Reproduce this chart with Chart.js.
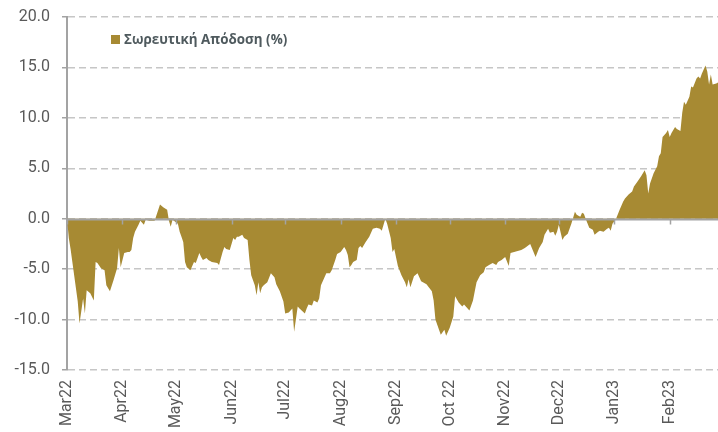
<!DOCTYPE html>
<html>
<head>
<meta charset="utf-8">
<script src="https://cdn.jsdelivr.net/npm/chart.js@4/dist/chart.umd.min.js"></script>
<style>
  html, body { margin: 0; padding: 0; background: #fff; }
  #wrap { position: relative; width: 718px; height: 432px; }
  #legend {
    position: absolute; left: 111px; top: 30px;
    font-family: "Open Sans", sans-serif; font-weight: bold; font-size: 13.4px;
    color: #4f5a5e; white-space: nowrap;
  }
  #legend span {
    display: inline-block; width: 9px; height: 9px; background: #a78a33;
    margin-right: 4px; vertical-align: 0px;
  }
</style>
</head>
<body>
<div id="wrap">
  <canvas id="returnChart" width="718" height="432"></canvas>
  <div id="legend"><span></span>Σωρευτική Απόδοση (%)</div>
</div>
<script>
// days since 1 Mar 2022
const days = [
    0, 1, 2, 4, 6, 7, 9, 10, 11, 13, 15, 16, 17, 19, 21, 22, 24, 26, 28, 29,
    30, 32, 34, 35, 36, 37, 38, 40, 41, 43, 44, 46, 49, 52, 54, 56, 57, 58, 59, 62,
    63, 64, 65, 66, 67, 69, 71, 72, 74, 75, 76, 78, 79, 81, 84, 85, 87, 88, 89, 91,
    93, 94, 95, 96, 98, 99, 101, 102, 103, 105, 106, 107, 108, 109, 110, 112, 114, 116, 117, 119,
    121, 122, 124, 126, 127, 129, 130, 133, 134, 135, 137, 138, 140, 141, 142, 144, 145, 147, 148, 150,
    151, 153, 155, 156, 157, 158, 159, 160, 162, 163, 164, 165, 167, 169, 171, 173, 175, 176, 177, 178,
    179, 181, 182, 183, 185, 187, 189, 190, 191, 192, 194, 196, 198, 201, 204, 205, 206, 208, 209, 211,
    212, 214, 216, 217, 219, 221, 222, 225, 227, 228, 229, 231, 233, 234, 236, 238, 240, 241, 243, 245,
    247, 248, 250, 254, 256, 259, 262, 264, 266, 267, 269, 270, 272, 273, 274, 275, 277, 278, 280, 282,
    283, 284, 285, 287, 288, 289, 290, 292, 293, 294, 295, 297, 298, 300, 302, 303, 304, 305, 307, 309,
    311, 312, 314, 316, 317, 319, 321, 323, 324, 325, 326, 328, 330, 331, 332, 333, 335, 336, 337, 338,
    340, 341, 343, 344, 345, 346, 348, 349, 350, 352, 353, 354, 355, 357, 358, 359, 360, 361, 363, 364
];
const returns = [
    0, -1.9, -3.0, -5.6, -8.2, -10.4, -7.9, -9.4, -7.1, -7.4, -8.1, -4.3, -4.4, -4.9, -5.1, -6.6, -7.2, -6.1, -4.9, -2.9,
    -4.8, -3.4, -3.3, -3.3, -3.1, -1.9, -1.3, -0.6, -0.2, -0.6, -0.1, -0.2, -0.2, 1.4, 1.1, 0.9, -0.2, -0.8, -0.1, -0.5,
    -1.3, -1.8, -2.3, -4.3, -4.8, -5.1, -4.3, -4.4, -3.4, -3.8, -4.1, -3.9, -4.1, -4.3, -4.4, -4.6, -3.3, -2.8, -3.0, -3.1,
    -1.9, -2.1, -1.8, -1.8, -1.6, -1.9, -2.1, -4.1, -5.6, -6.6, -7.6, -6.3, -7.4, -6.8, -6.6, -6.3, -5.4, -5.8, -6.5, -7.2,
    -8.2, -9.4, -9.3, -8.9, -11.2, -8.7, -8.9, -9.4, -8.9, -8.5, -8.6, -8.1, -8.3, -7.9, -6.6, -5.8, -5.4, -5.4, -5.1, -4.1,
    -3.5, -3.3, -2.8, -3.1, -3.6, -4.8, -4.6, -4.3, -4.1, -2.9, -2.7, -2.9, -2.3, -1.8, -1.0, -0.9, -1.0, -1.2, -0.6, 0.0,
    -0.5, -1.9, -3.3, -3.0, -4.7, -5.6, -6.3, -6.8, -6.0, -6.8, -5.7, -5.4, -6.2, -6.5, -7.2, -8.1, -10.0, -11.0, -11.5, -11.0,
    -11.6, -10.8, -9.7, -7.7, -8.3, -8.7, -8.5, -9.1, -8.1, -7.2, -6.3, -5.6, -5.3, -4.8, -4.6, -4.4, -4.6, -4.3, -4.1, -3.8,
    -4.7, -3.4, -3.3, -3.1, -2.9, -2.5, -3.8, -2.9, -2.3, -1.6, -1.0, -1.4, -1.3, -1.7, -1.3, -0.6, -2.1, -1.8, -1.5, -0.5,
    0.1, 0.7, 0.4, 0.2, 0.6, 0.5, 0.0, -0.9, -1.0, -1.1, -1.6, -1.3, -1.2, -1.3, -1.0, -0.9, -1.2, -0.5, 0.0, 0.9,
    1.7, 2.0, 2.4, 2.7, 3.2, 3.7, 4.2, 4.8, 4.3, 2.5, 3.5, 4.5, 5.2, 6.2, 6.5, 8.1, 8.5, 8.8, 8.1, 8.5,
    9.1, 8.9, 8.7, 10.5, 11.6, 11.3, 12.1, 13.1, 13.0, 13.9, 14.1, 13.9, 14.4, 15.2, 14.6, 13.3, 14.3, 13.3, 13.4, 13.5
];
const monthStarts = [0, 31, 61, 92, 122, 153, 184, 214, 245, 275, 306, 337];
const monthLabels = ['Mar22', 'Apr22', 'May22', 'Jun22', 'Jul22', 'Aug22', 'Sep22', 'Oct 22', 'Nov22', 'Dec22', 'Jan23', 'Feb23'];
const yTicks = [-15, -10, -5, 0, 5, 10, 15, 20];

const gold = '#a78a33';
const axisGray = '#a3a3a3';
const labelGray = '#595959';

// zero line + month tick marks sit on top of the area
const zeroAxis = {
    id: 'zeroAxis',
    afterDatasetsDraw(chart) {
        const {ctx, chartArea, scales: {x, y}} = chart;
        const y0 = Math.round(y.getPixelForValue(0)) + 0.5;
        ctx.save();
        ctx.strokeStyle = axisGray;
        ctx.lineWidth = 2;
        ctx.beginPath();
        ctx.moveTo(chartArea.left, y0);
        ctx.lineTo(chartArea.right, y0);
        ctx.stroke();
        ctx.lineWidth = 1.5;
        monthStarts.forEach(function (d) {
            const px = Math.round(x.getPixelForValue(d)) + 0.5;
            ctx.beginPath();
            ctx.moveTo(px, y0);
            ctx.lineTo(px, y0 + 5);
            ctx.stroke();
        });
        ctx.restore();
    }
};

const ctx = document.getElementById('returnChart').getContext('2d');
const returnChart = new Chart(ctx, {
    type: 'line',
    data: {
        datasets: [{
            label: 'Σωρευτική Απόδοση (%)',
            data: days.map((d, i) => ({ x: d, y: returns[i] })),
            borderWidth: 0,
            borderColor: gold,
            backgroundColor: gold,
            fill: 'origin',
            pointRadius: 0,
            tension: 0
        }]
    },
    options: {
        responsive: false,
        animation: false,
        layout: {
            padding: { top: 17, right: 0, left: 0, bottom: 0 }
        },
        plugins: {
            legend: { display: false },
            tooltip: { enabled: false }
        },
        scales: {
            x: {
                type: 'linear',
                min: 0,
                max: 364,
                afterBuildTicks: function (scale) {
                    scale.ticks = monthStarts.map(v => ({ value: v }));
                },
                afterFit: function (scale) {
                    scale.height = 62;
                },
                ticks: {
                    autoSkip: false,
                    maxRotation: 90,
                    minRotation: 90,
                    padding: 10,
                    color: labelGray,
                    font: { family: 'Roboto', size: 16 },
                    callback: function (value) {
                        return monthLabels[monthStarts.indexOf(value)];
                    }
                },
                grid: { display: false, drawTicks: false },
                border: { display: false }
            },
            y: {
                min: -15,
                max: 20,
                afterBuildTicks: function (scale) {
                    scale.ticks = yTicks.map(v => ({ value: v }));
                },
                afterFit: function (scale) {
                    scale.width = 67;
                    scale.paddingTop = 0;
                    scale.paddingBottom = 0;
                },
                ticks: {
                    padding: 12,
                    color: labelGray,
                    font: { family: 'Roboto', size: 16 },
                    callback: function (value) {
                        return value.toFixed(1);
                    }
                },
                grid: {
                    color: '#c6c6c6',
                    lineWidth: 1.5,
                    tickLength: 5,
                    tickColor: axisGray,
                    tickWidth: 1.5
                },
                border: {
                    display: true,
                    color: axisGray,
                    width: 2,
                    dash: [7, 4]
                }
            }
        }
    },
    plugins: [zeroAxis]
});
</script>
</body>
</html>
